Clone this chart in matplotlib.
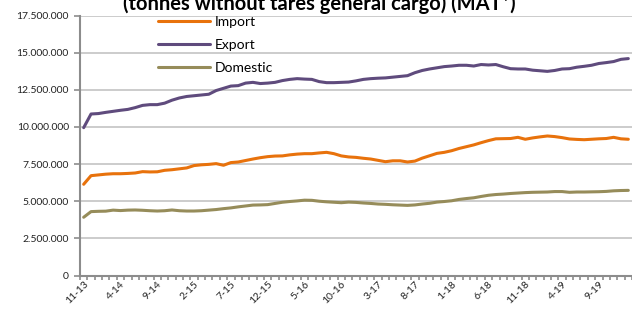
import matplotlib
matplotlib.use("Agg")
import matplotlib.pyplot as plt
from matplotlib.ticker import FuncFormatter, FixedLocator

# months 11-13 .. 1-20 (75 points), values in millions of tonnes
months = []
m, y = 11, 13
for _ in range(75):
    months.append("{}-{}".format(m, y))
    m += 1
    if m > 12:
        m, y = 1, y + 1

import_vals = [6.14, 6.72, 6.77, 6.82, 6.85, 6.85, 6.87, 6.90, 6.99, 6.97,
               6.98, 7.08, 7.12, 7.18, 7.24, 7.40, 7.45, 7.48, 7.53, 7.42,
               7.60, 7.64, 7.74, 7.84, 7.93, 8.00, 8.04, 8.05, 8.12, 8.17,
               8.20, 8.20, 8.25, 8.29, 8.20, 8.05, 7.98, 7.95, 7.89, 7.84,
               7.75, 7.66, 7.72, 7.72, 7.64, 7.70, 7.90, 8.06, 8.22, 8.29,
               8.40, 8.55, 8.67, 8.79, 8.94, 9.08, 9.20, 9.21, 9.22, 9.30,
               9.17, 9.26, 9.33, 9.39, 9.35, 9.28, 9.19, 9.16, 9.14, 9.17,
               9.20, 9.22, 9.30, 9.20, 9.17]

export_vals = [9.95, 10.87, 10.90, 10.98, 11.05, 11.12, 11.18, 11.30, 11.45, 11.50,
               11.50, 11.60, 11.80, 11.95, 12.05, 12.10, 12.15, 12.20, 12.45, 12.60,
               12.75, 12.78, 12.95, 13.00, 12.92, 12.95, 13.00, 13.12, 13.20, 13.25,
               13.22, 13.20, 13.05, 12.98, 12.98, 13.00, 13.02, 13.10, 13.20, 13.25,
               13.28, 13.30, 13.35, 13.40, 13.45, 13.65, 13.80, 13.90, 13.98, 14.06,
               14.10, 14.15, 14.15, 14.10, 14.20, 14.17, 14.20, 14.05, 13.92, 13.90,
               13.90, 13.82, 13.78, 13.74, 13.80, 13.90, 13.92, 14.02, 14.08, 14.15,
               14.27, 14.33, 14.40, 14.55, 14.60]

domestic_vals = [3.92, 4.30, 4.32, 4.33, 4.40, 4.37, 4.40, 4.41, 4.39, 4.36,
                 4.34, 4.36, 4.41, 4.36, 4.34, 4.34, 4.36, 4.40, 4.44, 4.50,
                 4.55, 4.62, 4.68, 4.74, 4.75, 4.77, 4.85, 4.93, 4.98, 5.02,
                 5.07, 5.06, 5.00, 4.96, 4.93, 4.90, 4.94, 4.92, 4.88, 4.85,
                 4.81, 4.79, 4.76, 4.74, 4.72, 4.75, 4.81, 4.86, 4.94, 4.98,
                 5.03, 5.12, 5.18, 5.23, 5.32, 5.40, 5.45, 5.48, 5.52, 5.55,
                 5.58, 5.60, 5.61, 5.62, 5.65, 5.65, 5.60, 5.62, 5.62, 5.63,
                 5.64, 5.66, 5.70, 5.72, 5.73]

series = [("Import", import_vals, "#E8720C"),
          ("Export", export_vals, "#5F4B7D"),
          ("Domestic", domestic_vals, "#968C5A")]

plt.rcParams['font.family'] = ['Lato', 'DejaVu Sans']

fig = plt.figure(figsize=(6.32, 3.09), dpi=100)
ax = fig.add_axes([80 / 632, 1 - 275.5 / 309, 1 - 80 / 632, 260 / 309])

x = list(range(len(months)))
for name, vals, col in series:
    ax.plot(x, [v * 1e6 for v in vals], color=col, lw=2.2, label=name,
            solid_capstyle="round", zorder=3)

ax.set_xlim(-0.5, len(months) - 0.5)
ax.set_ylim(0, 17.5e6)
ax.set_yticks([i * 2.5e6 for i in range(8)])
ax.yaxis.set_major_formatter(FuncFormatter(lambda v, p: "{:,}".format(int(v)).replace(",", ".")))
ax.grid(axis="y", color="#c4c4c4", lw=1.2, zorder=0)

ax.xaxis.set_major_locator(FixedLocator(list(range(0, len(months), 5))))
ax.set_xticklabels(months[::5], rotation=45, ha="right", rotation_mode="anchor")
ax.xaxis.set_minor_locator(FixedLocator([i - 0.5 for i in range(len(months) + 1)]))
ax.tick_params(axis="x", which="major", length=0, pad=3, labelsize=7.5, labelcolor="#222222")
ax.tick_params(axis="x", which="minor", length=3, width=1.2, color="#8c8c8c")
ax.tick_params(axis="y", length=4, width=1.2, color="#8c8c8c", labelsize=7.5, labelcolor="#222222", pad=4)

for s in ["top", "right"]:
    ax.spines[s].set_visible(False)
for s in ["left", "bottom"]:
    ax.spines[s].set_color("#8c8c8c")
    ax.spines[s].set_linewidth(1.5)

# title's first line lies above the image, only the bottom of this line shows
fig.text(0.505, 1 - 10 / 309, "(tonnes without tares general cargo) (MAT*)",
         ha="center", va="baseline", fontsize=14.5, fontweight="bold")

fig.legend(loc="upper left", bbox_to_anchor=(158 / 632, 1 - 16 / 309), frameon=False,
           fontsize=10, handlelength=3.75, labelspacing=0.8, borderpad=0,
           borderaxespad=0, handletextpad=0.3)

fig.savefig("out.png", dpi=100)
